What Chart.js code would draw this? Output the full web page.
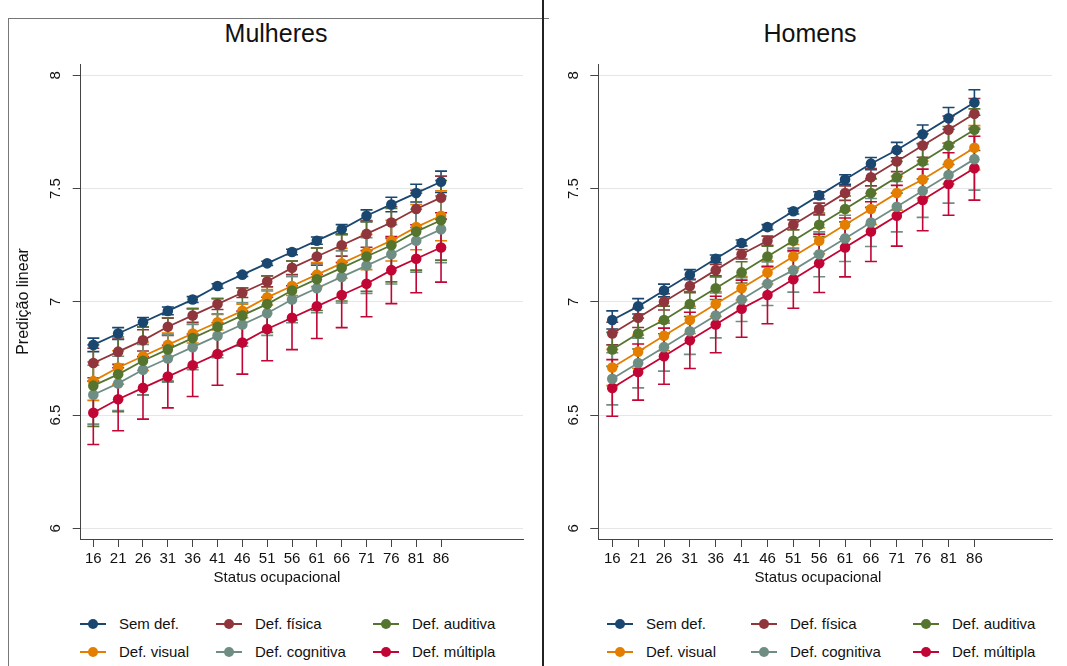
<!DOCTYPE html>
<html>
<head>
<meta charset="utf-8">
<script src="https://cdn.jsdelivr.net/npm/chart.js@4.4.1/dist/chart.umd.min.js"></script>
<style>
  body { margin: 0; background: #fff; width: 1067px; height: 666px; overflow: hidden; position: relative;
         font-family: "Liberation Sans", Arial, sans-serif; color: #111; }
  .frame { position: absolute; left: 8px; top: 18px; width: 540px; height: 660px; border-left: 1px solid #777; border-top: 1px solid #777; }
  .divider { position: absolute; left: 542px; top: 0; width: 2px; height: 666px; background: #222; }
  .title { position: absolute; top: 19px; font-size: 25px; transform: translateX(-50%); white-space: nowrap; }
  .xtitle { position: absolute; top: 568px; font-size: 15px; transform: translateX(-50%); white-space: nowrap; }
  canvas { position: absolute; }
  .item { position: absolute; height: 20px; font-size: 15px; line-height: 20px; white-space: nowrap; }
  .sym { position: absolute; top: 9px; width: 26px; height: 2px; }
  .dot { position: absolute; left: 8px; top: -4px; width: 10px; height: 10px; border-radius: 50%; }
</style>
</head>
<body>
<div class="frame"></div>
<div class="divider"></div>
<div class="title" style="left:276px">Mulheres</div>
<div class="title" style="left:810px">Homens</div>
<canvas id="chartF" width="533" height="571" style="left:8px; top:18px"></canvas>
<canvas id="chartM" width="521" height="571" style="left:545px; top:18px"></canvas>
<div class="xtitle" style="left:277px">Status ocupacional</div>
<div class="xtitle" style="left:818px">Status ocupacional</div>
<div id="legends"></div>
<script>
const status = [16, 21, 26, 31, 36, 41, 46, 51, 56, 61, 66, 71, 76, 81, 86];
const xTicks = [16, 21, 26, 31, 36, 41, 46, 51, 56, 61, 66, 71, 76, 81, 86];
const yTicks = [6, 6.5, 7, 7.5, 8];
const groups = ["Sem def.", "Def. física", "Def. auditiva", "Def. visual", "Def. cognitiva", "Def. múltipla"];
const colors = ["#1a476f", "#90353b", "#55752f", "#e37e00", "#6e8e84", "#c10534"];

// Mulheres
const semDefF    = [6.81, 6.86, 6.91, 6.96, 7.01, 7.07, 7.12, 7.17, 7.22, 7.27, 7.32, 7.38, 7.43, 7.48, 7.53];
const fisicaF    = [6.73, 6.78, 6.83, 6.89, 6.94, 6.99, 7.04, 7.09, 7.15, 7.20, 7.25, 7.30, 7.35, 7.41, 7.46];
const auditivaF  = [6.63, 6.68, 6.74, 6.79, 6.84, 6.89, 6.94, 6.99, 7.05, 7.10, 7.15, 7.20, 7.25, 7.31, 7.36];
const visualF    = [6.65, 6.71, 6.76, 6.81, 6.86, 6.91, 6.96, 7.02, 7.07, 7.12, 7.17, 7.22, 7.27, 7.33, 7.38];
const cognitivaF = [6.59, 6.64, 6.70, 6.75, 6.80, 6.85, 6.90, 6.95, 7.01, 7.06, 7.11, 7.16, 7.21, 7.27, 7.32];
const multiplaF  = [6.51, 6.57, 6.62, 6.67, 6.72, 6.77, 6.82, 6.88, 6.93, 6.98, 7.03, 7.08, 7.14, 7.19, 7.24];

// half width of the confidence intervals, Mulheres
const ciSemDefF    = [0.030, 0.026, 0.021, 0.017, 0.013, 0.010, 0.008, 0.009, 0.012, 0.016, 0.021, 0.026, 0.032, 0.039, 0.047];
const ciFisicaF    = [0.065, 0.056, 0.047, 0.038, 0.030, 0.024, 0.021, 0.024, 0.030, 0.038, 0.048, 0.059, 0.070, 0.082, 0.095];
const ciAuditivaF  = [0.180, 0.165, 0.150, 0.140, 0.130, 0.125, 0.122, 0.125, 0.130, 0.138, 0.146, 0.154, 0.162, 0.170, 0.176];
const ciVisualF    = [0.085, 0.074, 0.063, 0.052, 0.042, 0.034, 0.030, 0.034, 0.042, 0.053, 0.066, 0.078, 0.090, 0.100, 0.110];
const ciCognitivaF = [0.130, 0.120, 0.112, 0.105, 0.100, 0.097, 0.096, 0.098, 0.102, 0.108, 0.115, 0.123, 0.131, 0.139, 0.147];
const ciMultiplaF  = [0.140, 0.139, 0.138, 0.138, 0.138, 0.138, 0.139, 0.140, 0.141, 0.142, 0.144, 0.146, 0.148, 0.150, 0.153];

// Homens
const semDefM    = [6.92, 6.98, 7.05, 7.12, 7.19, 7.26, 7.33, 7.40, 7.47, 7.54, 7.61, 7.67, 7.74, 7.81, 7.88];
const fisicaM    = [6.86, 6.93, 7.00, 7.07, 7.14, 7.21, 7.27, 7.34, 7.41, 7.48, 7.55, 7.62, 7.69, 7.76, 7.83];
const auditivaM  = [6.79, 6.86, 6.92, 6.99, 7.06, 7.13, 7.20, 7.27, 7.34, 7.41, 7.48, 7.55, 7.62, 7.69, 7.76];
const visualM    = [6.71, 6.78, 6.85, 6.92, 6.99, 7.06, 7.13, 7.20, 7.27, 7.34, 7.41, 7.48, 7.54, 7.61, 7.68];
const cognitivaM = [6.66, 6.73, 6.80, 6.87, 6.94, 7.01, 7.08, 7.14, 7.21, 7.28, 7.35, 7.42, 7.49, 7.56, 7.63];
const multiplaM  = [6.62, 6.69, 6.76, 6.83, 6.90, 6.97, 7.03, 7.10, 7.17, 7.24, 7.31, 7.38, 7.45, 7.52, 7.59];

const ciSemDefM    = [0.040, 0.034, 0.028, 0.022, 0.017, 0.013, 0.011, 0.012, 0.016, 0.021, 0.027, 0.034, 0.041, 0.048, 0.056];
const ciFisicaM    = [0.050, 0.043, 0.036, 0.030, 0.025, 0.021, 0.020, 0.022, 0.026, 0.032, 0.038, 0.045, 0.052, 0.060, 0.068];
const ciAuditivaM  = [0.075, 0.068, 0.061, 0.055, 0.050, 0.047, 0.046, 0.048, 0.052, 0.057, 0.063, 0.070, 0.077, 0.084, 0.092];
const ciVisualM    = [0.080, 0.073, 0.066, 0.060, 0.055, 0.052, 0.051, 0.053, 0.057, 0.062, 0.068, 0.075, 0.082, 0.090, 0.098];
const ciCognitivaM = [0.115, 0.110, 0.106, 0.102, 0.099, 0.097, 0.096, 0.097, 0.099, 0.102, 0.106, 0.111, 0.117, 0.124, 0.137];
const ciMultiplaM  = [0.125, 0.124, 0.124, 0.124, 0.125, 0.126, 0.127, 0.128, 0.129, 0.130, 0.132, 0.134, 0.136, 0.138, 0.141];

const font = "'Liberation Sans', Arial, sans-serif";

// vertical CI bars with caps, drawn under the lines and markers
const errorBars = {
  id: "errorBars",
  beforeDatasetsDraw(chart) {
    const ctx = chart.ctx, xs = chart.scales.x, ys = chart.scales.y;
    chart.data.datasets.forEach(ds => {
      ctx.save();
      ctx.strokeStyle = ds.borderColor;
      ctx.lineWidth = 1.6;
      ds.data.forEach((p, i) => {
        const x = xs.getPixelForValue(p.x);
        const lo = ys.getPixelForValue(p.y - ds.ci[i]);
        const hi = ys.getPixelForValue(p.y + ds.ci[i]);
        ctx.beginPath();
        ctx.moveTo(x, lo); ctx.lineTo(x, hi);
        ctx.moveTo(x - 6, lo); ctx.lineTo(x + 6, lo);
        ctx.moveTo(x - 6, hi); ctx.lineTo(x + 6, hi);
        ctx.stroke();
      });
      ctx.restore();
    });
  }
};

function makeChart(id, series, cis, opt) {
  const datasets = series.map((vals, k) => ({
    label: groups[k],
    data: status.map((s, i) => ({ x: s, y: vals[i] })),
    ci: cis[k],
    borderColor: colors[k],
    backgroundColor: colors[k],
    borderWidth: 1.8,
    pointRadius: 5.3,
    pointBorderWidth: 0,
    tension: 0
  }));
  return new Chart(document.getElementById(id), {
    type: "line",
    data: { datasets },
    plugins: [errorBars],
    options: {
      responsive: false,
      animation: false,
      layout: { padding: { left: 0, right: opt.rightPad, top: 46, bottom: 0 } },
      plugins: { legend: { display: false }, tooltip: { enabled: false } },
      scales: {
        x: {
          type: "linear", min: opt.xmin, max: opt.xmax,
          afterBuildTicks: s => { s.ticks = xTicks.map(v => ({ value: v })); },
          afterFit: s => { s.height = 50; },
          grid: { drawOnChartArea: false, tickLength: 8, tickColor: "#444" },
          border: { color: "#444", width: 1 },
          ticks: { font: { family: font, size: 15 }, color: "#111", padding: 3, maxRotation: 0, autoSkip: false }
        },
        y: {
          type: "linear", min: 5.953, max: 8.05,
          afterBuildTicks: s => { s.ticks = yTicks.map(v => ({ value: v })); },
          afterFit: s => { s.width = opt.yWidth; },
          grid: { color: "#e6e6e6", tickLength: 8, tickColor: "#444" },
          border: { color: "#444", width: 1 },
          ticks: { font: { family: font, size: 15 }, color: "#111", padding: 6,
                   minRotation: 90, maxRotation: 90, crossAlign: "center",
                   callback: v => String(v) },
          title: { display: !!opt.yTitle, text: opt.yTitle, font: { family: font, size: 16 },
                   color: "#111", padding: { top: 6, bottom: 0 } }
        }
      }
    }
  });
}

makeChart("chartF",
  [semDefF, fisicaF, auditivaF, visualF, cognitivaF, multiplaF],
  [ciSemDefF, ciFisicaF, ciAuditivaF, ciVisualF, ciCognitivaF, ciMultiplaF],
  { xmin: 13.46, xmax: 102.5, yWidth: 72.7, rightPad: 18, yTitle: "Predição linear" });

makeChart("chartM",
  [semDefM, fisicaM, auditivaM, visualM, cognitivaM, multiplaM],
  [ciSemDefM, ciFisicaM, ciAuditivaM, ciVisualM, ciCognitivaM, ciMultiplaM],
  { xmin: 13.3, xmax: 101, yWidth: 53.3, rightPad: 14, yTitle: "" });

// legends: 3 columns x 2 rows under each panel
const legendCols = [[80, 216, 373], [607, 751, 913]];
const legendRows = [614, 642];
const box = document.getElementById("legends");
legendCols.forEach(cols => {
  groups.forEach((g, k) => {
    const item = document.createElement("div");
    item.className = "item";
    item.style.left = cols[k % 3] + "px";
    item.style.top = legendRows[Math.floor(k / 3)] + "px";
    item.innerHTML = `<span class="sym" style="background:${colors[k]}"><span class="dot" style="background:${colors[k]}"></span></span>` +
                     `<span style="margin-left:39px">${g}</span>`;
    box.appendChild(item);
  });
});
</script>
</body>
</html>
